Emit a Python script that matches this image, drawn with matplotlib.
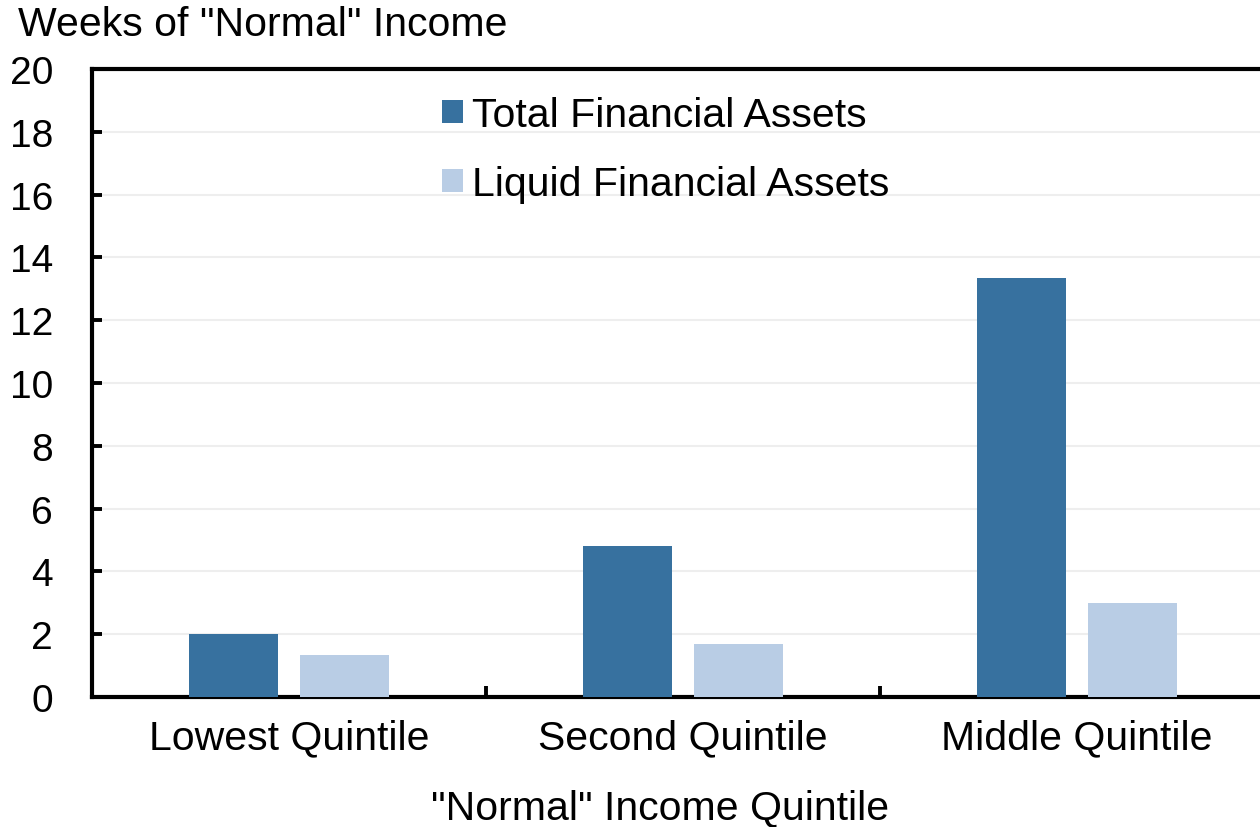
import numpy as np
import matplotlib.pyplot as plt

# datos
categorias = ["Lowest Quintile", "Second Quintile", "Middle Quintile"]
total = [2.0, 4.8, 13.33]
liquido = [1.34, 1.69, 3.0]
series = ["Total Financial Assets", "Liquid Financial Assets"]
yticks = [0, 2, 4, 6, 8, 10, 12, 14, 16, 18, 20]

plt.rcParams['font.family'] = ['Liberation Sans', 'DejaVu Sans']
fs = 29.5

fig = plt.figure(figsize=(12.6, 8.28), dpi=100)
ax = fig.add_axes([0.073, 0.157, 0.938, 0.7585])

x = np.arange(len(categorias))
w = 0.226
ax.bar(x - 0.1415, total, w, color="#37719F", label=series[0], zorder=3)
ax.bar(x + 0.1415, liquido, w, color="#B9CDE5", label=series[1], zorder=3)

ax.set_xlim(-0.5, 2.5)
ax.set_ylim(0, 20)
ax.set_yticks(yticks)
ax.tick_params(axis="y", direction="in", length=7, width=2.8, labelsize=28, pad=28)
ax.set_xticks([0.5, 1.5])
ax.set_xticklabels([])
ax.tick_params(axis="x", direction="in", length=8, width=2.8)
for i, c in enumerate(categorias):
    ax.text(i, -1.28, c, ha="center", va="center", fontsize=fs)

ax.grid(axis="y", color="#EEEEEE", linewidth=1.5, zorder=0)
for s in ["left", "bottom", "top", "right"]:
    ax.spines[s].set_linewidth(3)

ax.legend(loc="upper left", bbox_to_anchor=(0.296, 0.957), frameon=False, fontsize=fs,
          borderpad=0, borderaxespad=0,
          handlelength=0.51, handleheight=0.51, handletextpad=0.22, labelspacing=0.76)

fig.text(0.014, 0.970, 'Weeks of "Normal" Income', ha="left", va="center", fontsize=fs)
fig.text(0.524, 0.024, '"Normal" Income Quintile', ha="center", va="center", fontsize=fs)

fig.savefig("out.png", dpi=100)
